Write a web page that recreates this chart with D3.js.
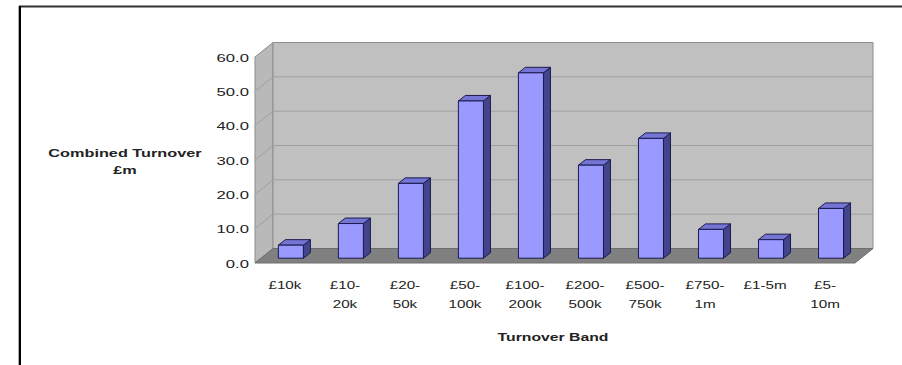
<!DOCTYPE html>
<html>
<head>
<meta charset="utf-8">
<script src="https://cdn.jsdelivr.net/npm/d3@7"></script>
<style>
  html, body { margin: 0; padding: 0; background: #fff; }
  svg { display: block; }
  text { font-family: "Liberation Sans", Arial, sans-serif; fill: #222; }
</style>
</head>
<body>
<svg id="chart" width="902" height="365"></svg>
<script>
// Turnover bands and combined turnover (£m)
const bandLine1 = ["£10k", "£10-", "£20-", "£50-", "£100-", "£200-", "£500-", "£750-", "£1-5m", "£5-"];
const bandLine2 = ["", "20k", "50k", "100k", "200k", "500k", "750k", "1m", "", "10m"];
const turnover = [3.8, 10.1, 21.8, 45.8, 54.0, 27.1, 34.9, 8.4, 5.4, 14.5];
const yTicks = [0, 10, 20, 30, 40, 50, 60];
const yTitle = ["Combined Turnover", "£m"];
const xTitle = "Turnover Band";

const svg = d3.select("#chart");
const categories = bandLine1.map((d, i) => i);

// front plane of the 3-D box
const x = d3.scaleBand().domain(categories).range([255, 855]).paddingInner(0.583).paddingOuter(0.29);
const y = d3.scaleLinear().domain([0, 60]).range([263, 57]);
// depth vector of the box
const DX = 18, DY = -14.5;
// bars stand partway into the box
const t0 = 0.33, bdx = 7, bdy = -5.5;
const stretch = 1.45;

// outer frame
svg.append("line").attr("x1", 19).attr("x2", 902).attr("y1", 6.5).attr("y2", 6.5)
  .attr("stroke", "#333").attr("stroke-width", 2);
svg.append("line").attr("x1", 18.5).attr("x2", 18.5).attr("y1", 6).attr("y2", 365)
  .attr("stroke", "#aaa").attr("stroke-width", 1);
svg.append("line").attr("x1", 20).attr("x2", 20).attr("y1", 6).attr("y2", 365)
  .attr("stroke", "#000").attr("stroke-width", 2);

const x0 = x.range()[0], x1 = x.range()[1];
const yz = y(0), yt = y(60);
const pts = a => a.map(p => p.join(",")).join(" ");

// side wall
svg.append("polygon")
  .attr("points", pts([[x0, yz], [x0, yt], [x0 + DX, yt + DY], [x0 + DX, yz + DY]]))
  .attr("fill", "#b9b9b9").attr("stroke", "#8c8c8c").attr("stroke-width", 1);
// back wall
svg.append("polygon")
  .attr("points", pts([[x0 + DX, yt + DY], [x1 + DX, yt + DY], [x1 + DX, yz + DY], [x0 + DX, yz + DY]]))
  .attr("fill", "#c0c0c0").attr("stroke", "#8c8c8c").attr("stroke-width", 1);

// gridlines on walls
const grid = svg.append("g").attr("stroke", "#a0a0a0").attr("stroke-width", 1);
yTicks.filter(v => v > 0 && v < 60).forEach(v => {
  grid.append("line").attr("x1", x0 + DX).attr("x2", x1 + DX)
    .attr("y1", y(v) + DY).attr("y2", y(v) + DY);
  grid.append("line").attr("x1", x0).attr("x2", x0 + DX)
    .attr("y1", y(v)).attr("y2", y(v) + DY);
});

// floor
svg.append("polygon")
  .attr("points", pts([[x0, yz], [x1, yz], [x1 + DX, yz + DY], [x0 + DX, yz + DY]]))
  .attr("fill", "#808080").attr("stroke", "#6e6e6e").attr("stroke-width", 1);

// bars
const bw = x.bandwidth();
const bars = svg.append("g").attr("stroke", "#1a1a4d").attr("stroke-width", 1).attr("stroke-linejoin", "round");
turnover.forEach((v, i) => {
  const bx = x(i) + t0 * DX;
  const by = y(v) + t0 * DY;
  const by0 = y(0) + t0 * DY;
  bars.append("polygon")
    .attr("points", pts([[bx + bw, by], [bx + bw + bdx, by + bdy], [bx + bw + bdx, by0 + bdy], [bx + bw, by0]]))
    .attr("fill", "#44448c");
  bars.append("polygon")
    .attr("points", pts([[bx, by], [bx + bdx, by + bdy], [bx + bw + bdx, by + bdy], [bx + bw, by]]))
    .attr("fill", "#7575d6");
  bars.append("rect")
    .attr("x", bx).attr("y", by).attr("width", bw).attr("height", by0 - by)
    .attr("fill", "#9999ff");
});

// value axis
const yAxis = d3.axisLeft(y).tickValues(yTicks).tickFormat(d3.format(".1f")).tickSize(0).tickPadding(0);
const ya = svg.append("g").attr("transform", "translate(249,0)").call(yAxis);
ya.select(".domain").remove();
ya.selectAll("text")
  .attr("x", null).attr("dy", null)
  .attr("font-size", 11.5)
  .attr("font-family", "Liberation Sans, Arial, sans-serif")
  .attr("fill", "#222")
  .attr("transform", `translate(0,4) scale(${stretch},1)`);

// category labels
const cat = svg.append("g");
categories.forEach(i => {
  const cx = x(i) + bw / 2;
  [bandLine1[i], bandLine2[i]].forEach((s, k) => {
    if (!s) return;
    cat.append("text")
      .attr("transform", `translate(${cx},${289 + k * 19}) scale(${stretch},1)`)
      .attr("text-anchor", "middle").attr("font-size", 10.5).text(s);
  });
});

// axis titles
yTitle.forEach((s, k) => {
  svg.append("text")
    .attr("transform", `translate(125,${157 + k * 17}) scale(1.55,1)`)
    .attr("text-anchor", "middle").attr("font-size", 10.5).attr("font-weight", "bold").text(s);
});
svg.append("text")
  .attr("transform", `translate(553,341) scale(1.5,1)`)
  .attr("text-anchor", "middle").attr("font-size", 10.5).attr("font-weight", "bold").text(xTitle);
</script>
</body>
</html>
